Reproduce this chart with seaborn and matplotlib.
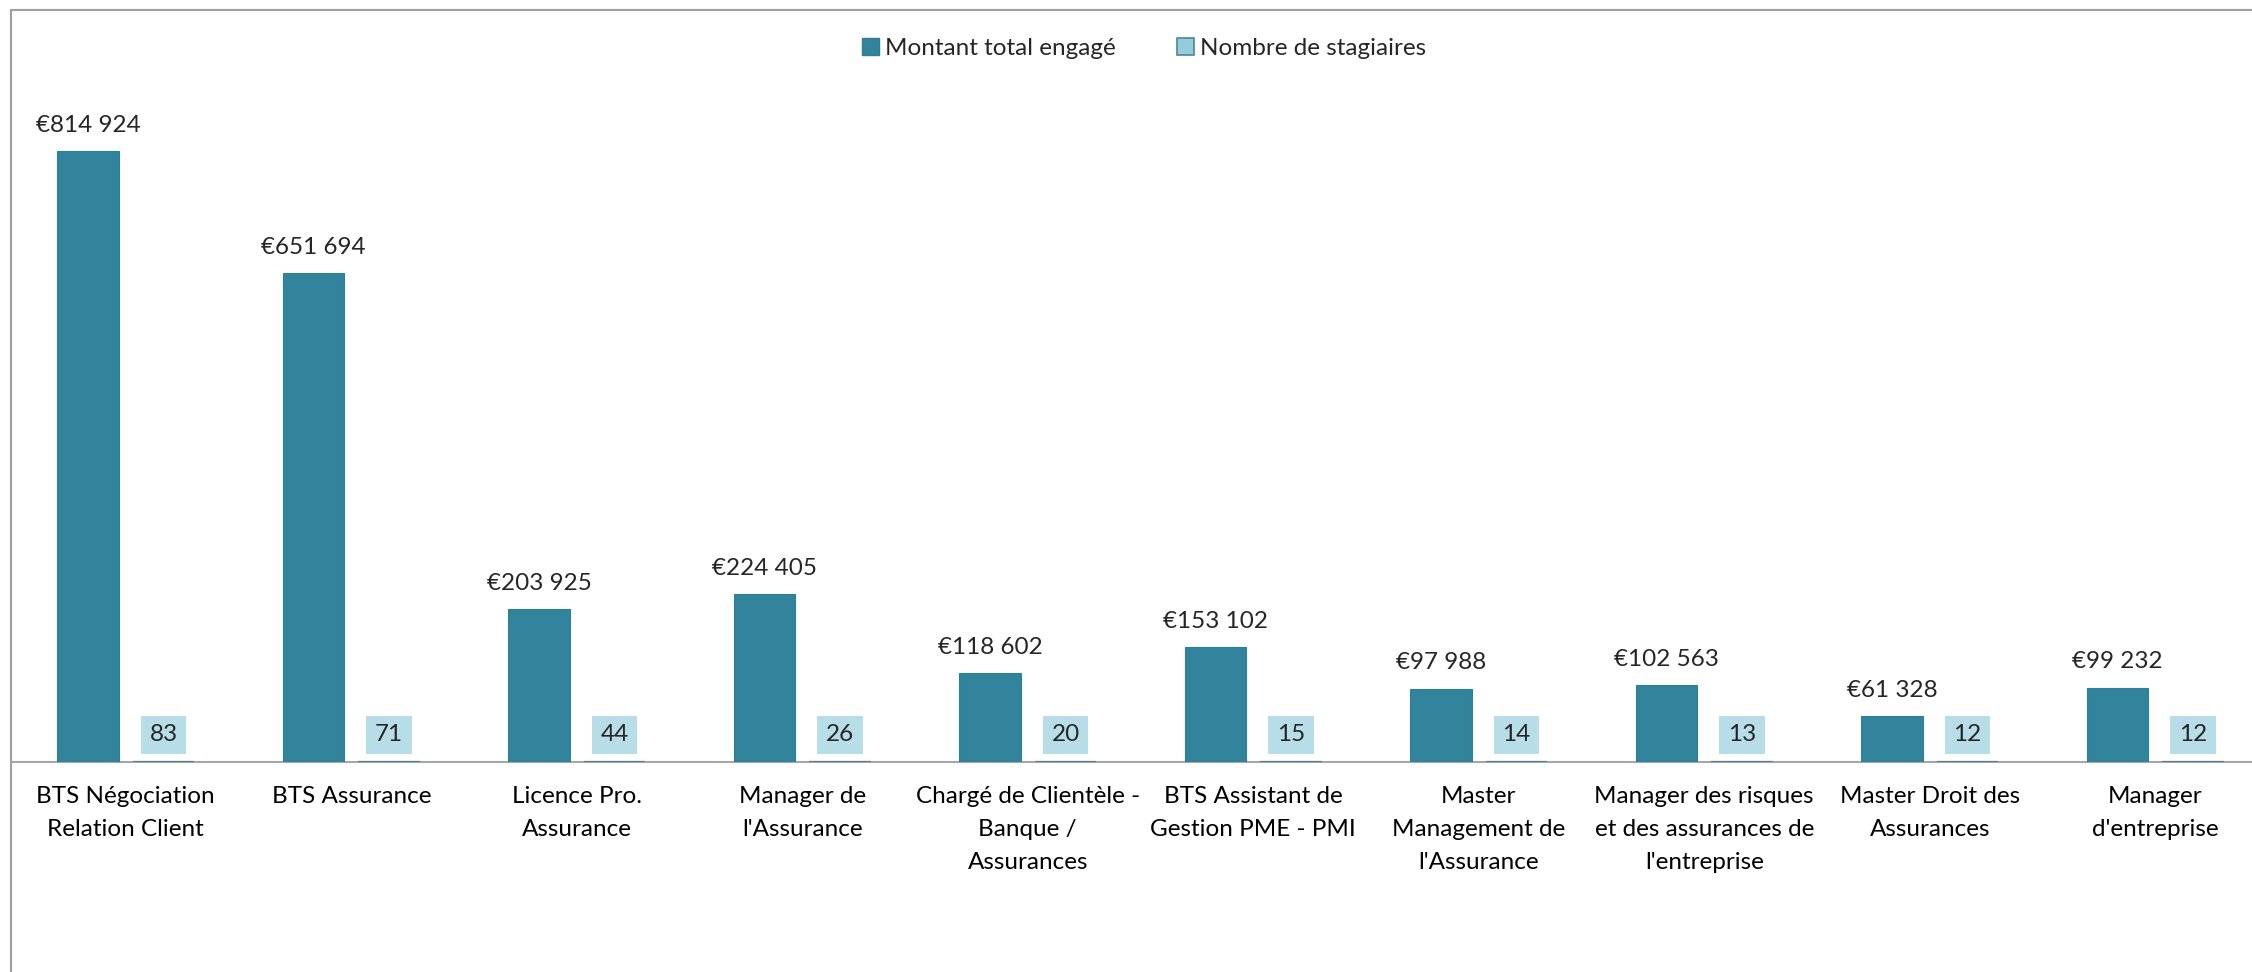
import matplotlib
matplotlib.use("Agg")
import matplotlib.pyplot as plt
import matplotlib.patches as mpatches
import seaborn as sns
import pandas as pd

sns.set_theme(style="white")
plt.rcParams['font.family'] = ['Lato', 'DejaVu Sans']

# data
formations = [
    "BTS Négociation\nRelation Client",
    "BTS Assurance",
    "Licence Pro.\nAssurance",
    "Manager de\nl'Assurance",
    "Chargé de Clientèle -\nBanque /\nAssurances",
    "BTS Assistant de\nGestion PME - PMI",
    "Master\nManagement de\nl'Assurance",
    "Manager des risques\net des assurances de\nl'entreprise",
    "Master Droit des\nAssurances",
    "Manager\nd'entreprise",
]
montant = [814924, 651694, 203925, 224405, 118602, 153102, 97988, 102563, 61328, 99232]
stagiaires = [83, 71, 44, 26, 20, 15, 14, 13, 12, 12]
series = ["Montant total engagé", "Nombre de stagiaires"]

dark = "#31849B"
light = "#93CDDD"
label_box = "#B7DEE8"
fs = 17.5

df = pd.DataFrame({
    "formation": formations * 2,
    "valeur": montant + stagiaires,
    "serie": [series[0]] * len(formations) + [series[1]] * len(formations),
})

fig = plt.figure(figsize=(22.52, 9.72), dpi=100)
ax = fig.add_axes([13 / 2252, 1 - 762 / 972, 2255 / 2252, 750 / 972])

sns.barplot(data=df, x="formation", y="valeur", hue="serie", hue_order=series,
            palette=[dark, light], saturation=1, width=0.67, gap=0.18,
            legend=False, ax=ax)

ax.set_ylim(0, 1000000)
ax.set_xlim(-0.5, 9.5)
ax.set_yticks([])
ax.set_ylabel("")
ax.set_xlabel("")
for s in ["top", "left", "right"]:
    ax.spines[s].set_visible(False)
ax.spines["bottom"].set_color("#a6a6a6")
ax.spines["bottom"].set_linewidth(1.5)
ax.tick_params(axis="x", length=0, pad=17, labelsize=fs)
plt.setp(ax.get_xticklabels(), linespacing=1.72, color="black")

dark_bars, light_bars = ax.containers[0], ax.containers[1]
for bar in dark_bars:
    bar.set_edgecolor("#2f7f94")
    bar.set_linewidth(0.8)
    bar.set_zorder(3)
for bar in light_bars:
    bar.set_edgecolor("#4f8592")
    bar.set_linewidth(1.6)
    bar.set_zorder(3)

for bar, v in zip(dark_bars, montant):
    txt = "€" + f"{v:,}".replace(",", " ")
    ax.annotate(txt, (bar.get_x() + bar.get_width() / 2, bar.get_height()),
                xytext=(0, 18.5), textcoords="offset points",
                ha="center", va="center", fontsize=fs)

for bar, v in zip(light_bars, stagiaires):
    ax.annotate(str(v), (bar.get_x() + bar.get_width() / 2, bar.get_height()),
                xytext=(0, 19.5), textcoords="offset points",
                ha="center", va="center", fontsize=fs,
                bbox=dict(boxstyle="square,pad=0.36", fc=label_box, ec="none"))

handles = [mpatches.Patch(facecolor=dark, edgecolor="#2f7f94"),
           mpatches.Patch(facecolor=light, edgecolor="#4f8592", linewidth=1.2)]
fig.legend(handles, series, loc="center", bbox_to_anchor=(0.508, 0.9496), ncol=2,
           frameon=False, fontsize=fs, handlelength=0.7, handleheight=0.7,
           handletextpad=0.25, columnspacing=2.5)

# outer chart frame (cropped on right and bottom)
fig.add_artist(mpatches.Rectangle((11 / 2252, -0.1), 1.2, 1.1 - 10 / 972,
                                  transform=fig.transFigure, fill=False,
                                  edgecolor="#a0a0a0", linewidth=1.5))

fig.savefig("out.png", dpi=100)
